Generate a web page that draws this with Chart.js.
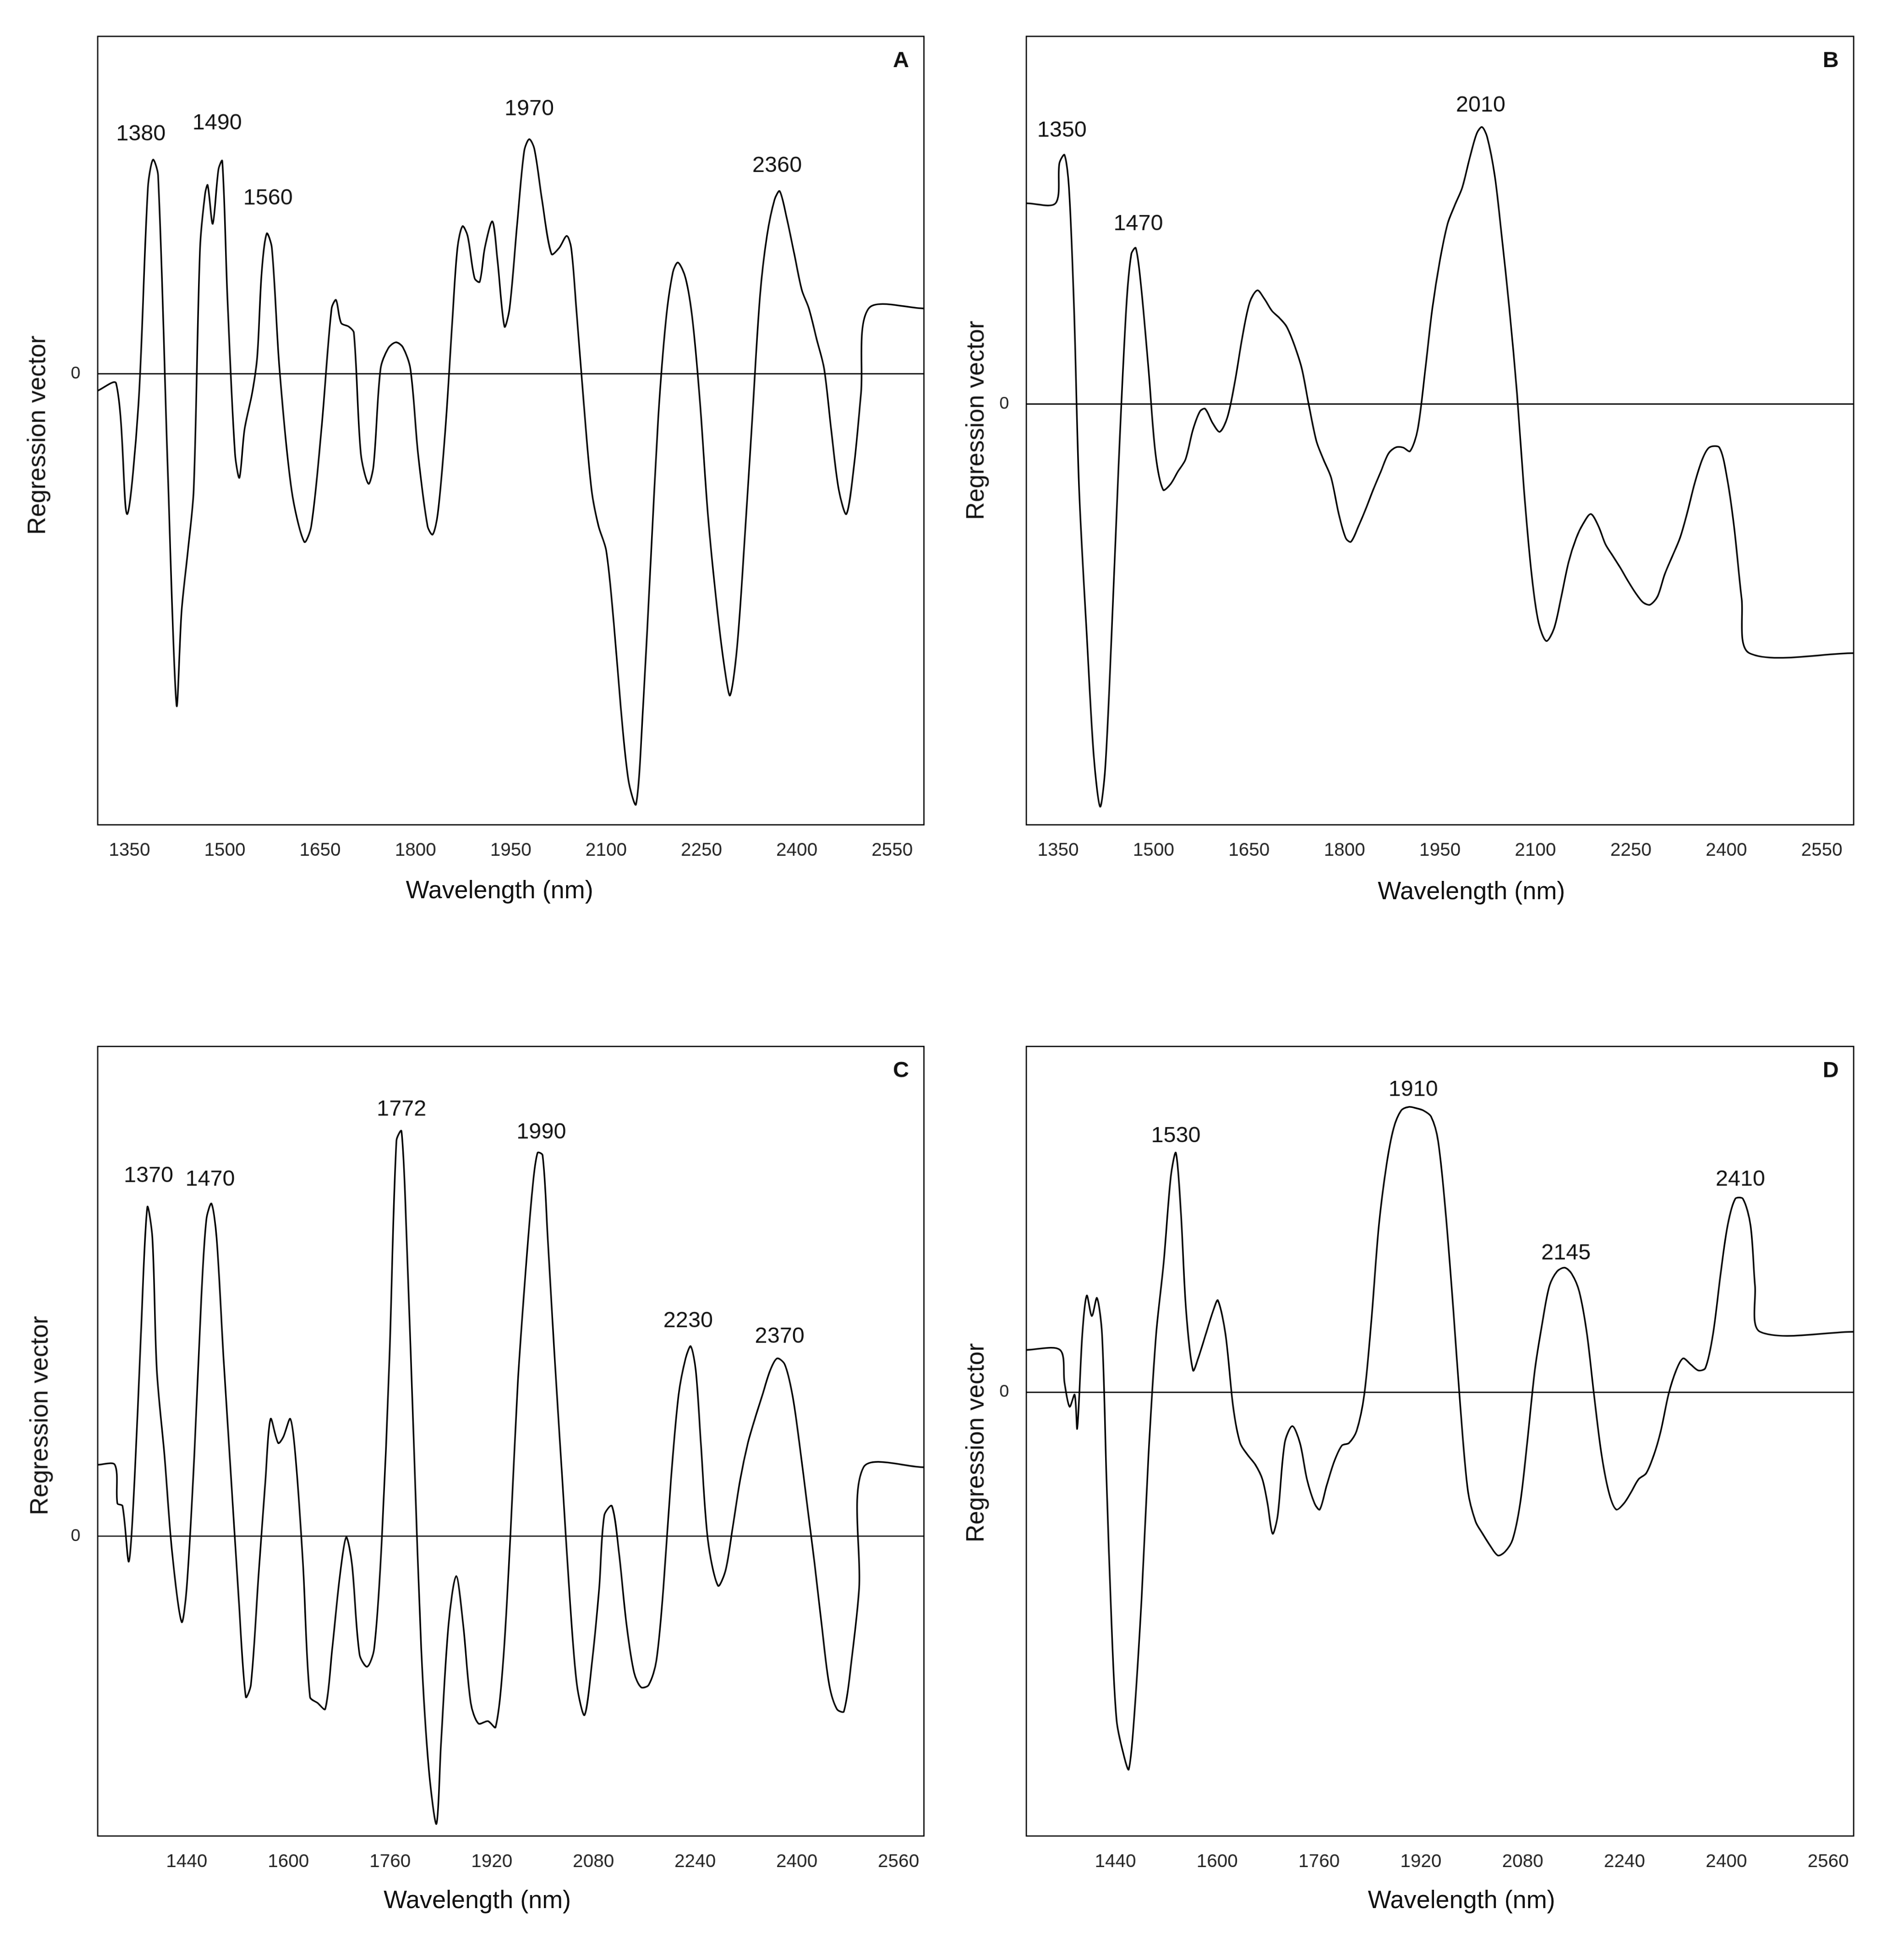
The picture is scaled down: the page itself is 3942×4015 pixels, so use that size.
<!DOCTYPE html>
<html>
<head>
<meta charset="utf-8">
<script src="https://cdn.jsdelivr.net/npm/chart.js@4.4.0/dist/chart.umd.min.js"></script>
<style>
  html, body { margin: 0; padding: 0; background: #fff; overflow: hidden; }
  #page { position: absolute; left: 0; top: 0; width: 1540px; height: 1570px; transform-origin: 0 0; font-family: Arial, "Liberation Sans", sans-serif; color: #111; }
  .box { position: absolute; }
  .ytitle { position: absolute; font-size: 20px; white-space: nowrap; transform: translate(-50%, -50%) rotate(-90deg); }
  .xtitle { position: absolute; font-size: 20px; white-space: nowrap; transform: translate(-50%, -50%); }
</style>
</head>
<body>
<div id="page"></div>
<script>
// wavelength (nm), regression vector (arbitrary units)
const seriesA = [[1300,-14],[1329,-8],[1346,-116],[1364,-26],[1379,154],[1387,177],[1395,164],[1410,-76],[1424,-274],[1432,-196],[1442,-146],[1451,-96],[1461,104],[1469,149],[1473,156],[1481,124],[1490,169],[1496,176],[1504,64],[1516,-66],[1523,-86],[1531,-46],[1543,-16],[1551,14],[1558,84],[1566,116],[1574,104],[1586,4],[1605,-96],[1625,-139],[1636,-126],[1652,-46],[1668,54],[1675,61],[1683,42],[1695,39],[1703,34],[1714,-66],[1726,-91],[1734,-76],[1745,4],[1757,21],[1769,26],[1780,22],[1792,4],[1804,-66],[1819,-126],[1827,-133],[1835,-116],[1847,-46],[1858,44],[1866,104],[1874,122],[1882,114],[1893,79],[1901,76],[1909,104],[1921,126],[1929,94],[1940,39],[1948,54],[1960,124],[1971,184],[1979,194],[1987,186],[1999,144],[2014,99],[2026,104],[2038,114],[2045,104],[2053,54],[2065,-26],[2077,-96],[2088,-126],[2100,-146],[2112,-206],[2123,-276],[2135,-336],[2147,-356],[2158,-276],[2170,-156],[2182,-36],[2194,44],[2205,84],[2213,92],[2225,79],[2236,44],[2248,-26],[2260,-116],[2275,-196],[2287,-246],[2295,-266],[2306,-226],[2318,-136],[2330,-36],[2342,64],[2353,114],[2365,144],[2373,151],[2384,129],[2396,99],[2408,69],[2419,54],[2431,29],[2443,4],[2454,-46],[2466,-96],[2478,-116],[2490,-76],[2501,-16],[2513,54],[2600,54]];
const seriesB = [[1300,166],[1346,166],[1352,199],[1360,206],[1367,179],[1375,79],[1383,-71],[1395,-191],[1406,-291],[1416,-333],[1424,-301],[1434,-191],[1445,-51],[1457,79],[1465,124],[1472,129],[1480,99],[1492,29],[1503,-41],[1515,-71],[1527,-66],[1538,-56],[1550,-46],[1562,-21],[1573,-6],[1581,-4],[1593,-16],[1604,-23],[1616,-11],[1628,19],[1639,54],[1651,84],[1663,94],[1674,87],[1686,77],[1698,71],[1709,64],[1721,49],[1733,29],[1744,-1],[1756,-31],[1767,-46],[1779,-61],[1791,-91],[1802,-111],[1810,-114],[1822,-101],[1834,-86],[1845,-71],[1857,-56],[1869,-41],[1880,-36],[1892,-36],[1903,-39],[1915,-21],[1927,29],[1938,79],[1950,119],[1962,149],[1973,164],[1985,179],[1997,204],[2008,224],[2016,229],[2024,221],[2036,189],[2047,139],[2059,79],[2071,9],[2082,-71],[2094,-141],[2105,-181],[2117,-196],[2129,-186],[2140,-161],[2152,-131],[2164,-111],[2175,-99],[2187,-91],[2199,-101],[2210,-116],[2222,-126],[2234,-136],[2245,-146],[2257,-156],[2269,-164],[2280,-166],[2292,-159],[2303,-141],[2315,-126],[2327,-111],[2338,-91],[2350,-66],[2362,-46],[2373,-36],[2389,-36],[2401,-61],[2412,-101],[2424,-161],[2436,-206],[2600,-206]];
const seriesC = [[1300,59],[1327,59],[1331,27],[1339,25],[1349,-21],[1358,47],[1368,167],[1378,272],[1386,247],[1393,137],[1405,67],[1417,-13],[1432,-71],[1440,-43],[1452,67],[1463,197],[1471,262],[1479,275],[1487,247],[1498,147],[1510,47],[1522,-53],[1533,-133],[1541,-123],[1553,-33],[1564,47],[1572,97],[1584,77],[1592,82],[1603,97],[1611,67],[1623,-23],[1634,-133],[1646,-138],[1658,-143],[1669,-93],[1681,-33],[1691,-1],[1700,-23],[1712,-98],[1724,-108],[1735,-93],[1747,-3],[1759,147],[1770,327],[1778,335],[1786,247],[1798,67],[1809,-93],[1821,-193],[1833,-238],[1840,-173],[1852,-73],[1864,-33],[1875,-73],[1887,-138],[1899,-155],[1914,-153],[1926,-158],[1938,-103],[1949,-3],[1961,127],[1973,217],[1984,287],[1992,317],[2000,315],[2008,247],[2019,147],[2031,47],[2043,-53],[2054,-123],[2066,-148],[2078,-103],[2089,-43],[2097,17],[2109,25],[2120,-13],[2132,-73],[2144,-113],[2155,-125],[2167,-123],[2179,-103],[2190,-43],[2202,47],[2214,117],[2225,147],[2233,157],[2241,137],[2249,77],[2260,-3],[2276,-41],[2288,-28],[2299,7],[2311,47],[2323,77],[2334,97],[2346,117],[2358,137],[2369,147],[2381,142],[2393,117],[2404,77],[2416,27],[2428,-23],[2439,-73],[2451,-123],[2463,-143],[2474,-145],[2486,-103],[2498,-43],[2505,57],[2600,57]];
const seriesD = [[1300,35],[1353,35],[1360,8],[1368,-12],[1376,-2],[1380,-30],[1388,48],[1395,80],[1403,63],[1411,78],[1419,48],[1426,-72],[1434,-192],[1442,-272],[1454,-302],[1461,-312],[1469,-272],[1481,-172],[1492,-52],[1504,48],[1516,108],[1527,178],[1535,198],[1543,148],[1551,68],[1562,18],[1570,28],[1582,48],[1594,68],[1601,76],[1613,48],[1625,-12],[1636,-42],[1648,-52],[1660,-60],[1671,-72],[1679,-92],[1687,-117],[1695,-102],[1706,-42],[1718,-28],[1730,-42],[1741,-72],[1753,-92],[1761,-97],[1772,-77],[1784,-57],[1796,-44],[1807,-42],[1819,-32],[1831,-2],[1842,58],[1854,138],[1866,188],[1877,218],[1889,233],[1901,236],[1912,235],[1924,233],[1936,228],[1947,208],[1959,148],[1971,68],[1982,-12],[1994,-82],[2006,-107],[2017,-117],[2029,-127],[2041,-135],[2052,-132],[2064,-122],[2076,-92],[2087,-42],[2099,18],[2111,58],[2122,88],[2134,100],[2146,103],[2157,98],[2169,83],[2181,48],[2192,-2],[2204,-52],[2216,-84],[2227,-97],[2239,-92],[2251,-82],[2262,-72],[2274,-67],[2286,-52],[2297,-32],[2309,-2],[2321,18],[2332,28],[2344,23],[2356,18],[2367,20],[2379,48],[2391,98],[2402,138],[2414,160],[2426,160],[2438,138],[2445,88],[2453,50],[2600,50]];

// peak annotations: [wavelength position, value position, text]
const peaksA = [[1368,198,"1380"],[1488,207,"1490"],[1568,145,"1560"],[1979,219,"1970"],[2369,172,"2360"]];
const peaksB = [[1356,226,"1350"],[1476,149,"1470"],[2014,247,"2010"]];
const peaksC = [[1380,298,"1370"],[1477,295,"1470"],[1778,353,"1772"],[1998,334,"1990"],[2229,178,"2230"],[2373,165,"2370"]];
const peaksD = [[1535,212,"1530"],[1908,250,"1910"],[2148,115,"2145"],[2422,176,"2410"]];

// x tick labels
const ticksAB = [1350, 1500, 1650, 1800, 1950, 2100, 2250, 2400, 2550];
const ticksCD = [1440, 1600, 1760, 1920, 2080, 2240, 2400, 2560];

const xMin = 1300, xMax = 2600;
const yRanges = { A: [-373, 279], B: [-348, 304], C: [-248, 405], D: [-367, 286] };

const scaleF = 2.56;
const page = document.getElementById("page");
page.style.transform = `scale(${scaleF})`;

const framePlugin = {
  id: "frame",
  afterDatasetsDraw(chart, args, opts) {
    const { ctx, chartArea: a, scales } = chart;
    ctx.save();
    ctx.strokeStyle = "#000";
    ctx.lineWidth = 1;
    ctx.strokeRect(a.left, a.top, a.right - a.left, a.bottom - a.top);
    const y0 = scales.y.getPixelForValue(0);
    ctx.beginPath();
    ctx.moveTo(a.left, y0);
    ctx.lineTo(a.right, y0);
    ctx.stroke();
    ctx.fillStyle = "#111";
    ctx.font = "18px Arial, 'Liberation Sans', sans-serif";
    ctx.textAlign = "center";
    ctx.textBaseline = "middle";
    opts.peaks.forEach(p => {
      ctx.fillText(p[2], scales.x.getPixelForValue(p[0]), scales.y.getPixelForValue(p[1]));
    });
    ctx.font = "bold 18px Arial, 'Liberation Sans', sans-serif";
    ctx.textAlign = "right";
    ctx.fillText(opts.letter, a.right - 12, a.top + 20);
    ctx.restore();
  }
};

function makePanel(letter, series, peaks, xTicks, left, top, w, h, yTitle, xTitle) {
  const box = document.createElement("div");
  box.className = "box";
  box.style.left = (left - 40) + "px";
  box.style.top = (top - 10) + "px";
  box.style.width = (w + 50) + "px";
  box.style.height = (h + 40) + "px";
  const canvas = document.createElement("canvas");
  box.appendChild(canvas);
  page.appendChild(box);

  const yt = document.createElement("div");
  yt.className = "ytitle";
  yt.textContent = "Regression vector";
  yt.style.left = yTitle[0] + "px";
  yt.style.top = yTitle[1] + "px";
  page.appendChild(yt);
  const xt = document.createElement("div");
  xt.className = "xtitle";
  xt.textContent = "Wavelength (nm)";
  xt.style.left = xTitle[0] + "px";
  xt.style.top = xTitle[1] + "px";
  page.appendChild(xt);

  new Chart(canvas, {
    type: "line",
    data: {
      datasets: [{
        data: series.map(p => ({ x: p[0], y: p[1] })),
        borderColor: "#000",
        borderWidth: 1.3,
        pointRadius: 0,
        tension: 0.3,
        fill: false
      }]
    },
    options: {
      responsive: true,
      maintainAspectRatio: false,
      animation: false,
      devicePixelRatio: 2.7,
      layout: { padding: { left: 0, top: 10, right: 10, bottom: 0 } },
      plugins: { legend: { display: false }, tooltip: { enabled: false }, frame: { peaks: peaks, letter: letter } },
      scales: {
        x: {
          type: "linear", min: xMin, max: xMax,
          grid: { display: false }, border: { display: false },
          ticks: { color: "#222", font: { size: 15 }, padding: 4, maxRotation: 0, autoSkip: false, callback: v => String(v) },
          afterBuildTicks: s => { s.ticks = xTicks.map(v => ({ value: v })); },
          afterFit: s => { s.height = 40; }
        },
        y: {
          min: yRanges[letter][0], max: yRanges[letter][1],
          grid: { display: false }, border: { display: false },
          ticks: { color: "#222", font: { size: 14 }, padding: 6 },
          afterBuildTicks: s => { s.ticks = [{ value: 0 }]; },
          afterFit: s => { s.width = 40; }
        }
      }
    },
    plugins: [framePlugin]
  });
}

makePanel("A", seriesA, peaksA, ticksAB, 79, 25, 668, 652, [30, 352], [404, 720]);
makePanel("B", seriesB, peaksB, ticksAB, 830, 25, 669, 652, [789, 340], [1190, 721]);
makePanel("C", seriesC, peaksC, ticksCD, 79, 842, 668, 653, [32, 1145], [386, 1537]);
makePanel("D", seriesD, peaksD, ticksCD, 830, 842, 669, 653, [789, 1167], [1182, 1537]);
</script>
</body>
</html>
